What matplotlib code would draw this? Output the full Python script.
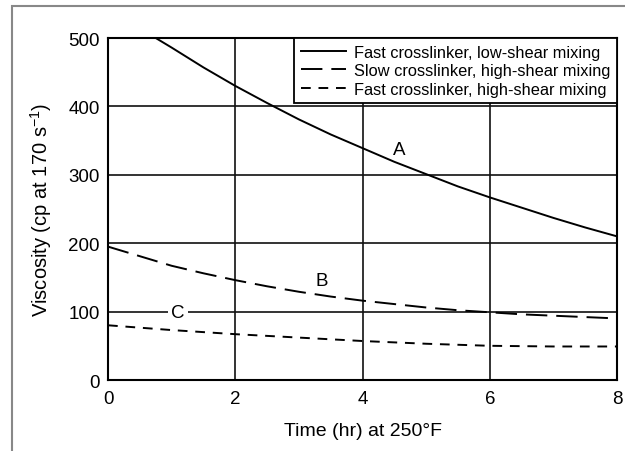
import matplotlib
matplotlib.use("Agg")
import matplotlib.pyplot as plt
from matplotlib.patches import Rectangle

plt.rcParams['font.family'] = ['Liberation Sans', 'DejaVu Sans']
plt.rcParams['mathtext.fontset'] = 'custom'
plt.rcParams['mathtext.rm'] = 'Liberation Sans'
plt.rcParams['mathtext.it'] = 'Liberation Sans'

# Data
t_a = [0.75, 1, 1.5, 2, 2.5, 3, 3.5, 4, 4.5, 5, 5.5, 6, 6.5, 7, 7.5, 8]
visc_a = [500, 486, 457, 430, 405, 381, 359, 339, 319, 301, 283, 267, 252, 237, 223, 210]
t_b = [0, 0.5, 1, 1.5, 2, 2.5, 3, 3.5, 4, 4.5, 5, 5.5, 6, 6.5, 7, 7.5, 8]
visc_b = [195, 181, 167, 156, 146, 137, 129, 122, 116, 111, 106, 102, 99, 96, 94, 92, 90]
t_c = [0, 0.5, 1, 1.5, 2, 2.5, 3, 3.5, 4, 4.5, 5, 5.5, 6, 6.5, 7, 7.5, 8]
visc_c = [80, 76.5, 73, 70, 67, 64.5, 62, 59.5, 57, 55, 53, 51.5, 50, 49.5, 49, 49, 49]
labels = ["Fast crosslinker, low-shear mixing",
          "Slow crosslinker, high-shear mixing",
          "Fast crosslinker, high-shear mixing"]
xticks = [0, 2, 4, 6, 8]
yticks = [0, 100, 200, 300, 400, 500]

fig = plt.figure(figsize=(6.25, 4.52), dpi=100)
ax = fig.add_axes([108/625, 1 - 381/452, (617-108)/625, (381-39)/452])

# outer frame
fig.patches.append(Rectangle((12/625, -0.1), 1.2, (452-7)/452 + 0.1,
                             transform=fig.transFigure, fill=False,
                             edgecolor='#888888', linewidth=1.5))

for x in [2, 4, 6]:
    ax.axvline(x, color='#111111', lw=1.2, zorder=1)
for y in [100, 200, 300, 400]:
    ax.axhline(y, color='#111111', lw=1.2, zorder=1)

ax.plot(t_a, visc_a, color='black', lw=1.4, label=labels[0], zorder=3)
ax.plot(t_b, visc_b, color='black', lw=1.4, dashes=(11, 4.6), label=labels[1], zorder=3)
ax.plot(t_c, visc_c, color='black', lw=1.4, dashes=(5, 4), label=labels[2], zorder=3)

ax.text(4.57, 337, "A", fontsize=13.5, ha='center', va='center', zorder=4)
ax.text(3.36, 146, "B", fontsize=13.5, ha='center', va='center', zorder=4)
ax.text(1.1, 99, "C", fontsize=13.5, ha='center', va='center', zorder=4,
        bbox=dict(facecolor='white', edgecolor='none', pad=2.5))

ax.set_xlim(0, 8)
ax.set_ylim(0, 500)
ax.set_xticks(xticks)
ax.set_yticks(yticks)
ax.tick_params(axis='y', length=0, labelsize=13.5, pad=6)
ax.tick_params(axis='x', length=0, labelsize=13.5, pad=7)
for s in ax.spines.values():
    s.set_linewidth(1.5)
    s.set_zorder(5)

ax.set_xlabel("Time (hr) at 250°F", fontsize=14, labelpad=11)
ax.set_ylabel(r"Viscosity (cp at 170 s$^{-1}$)", fontsize=14.5, labelpad=10)

leg = ax.legend(loc='upper right', bbox_to_anchor=(1.0, 1.0), fontsize=11.8,
                frameon=True, fancybox=False, framealpha=1, edgecolor='black',
                borderaxespad=0, handlelength=2.75, handletextpad=0.5,
                borderpad=0.4, labelspacing=0.22)
leg.get_frame().set_linewidth(1.3)
leg.set_zorder(6)

fig.savefig("out.png", dpi=100)
